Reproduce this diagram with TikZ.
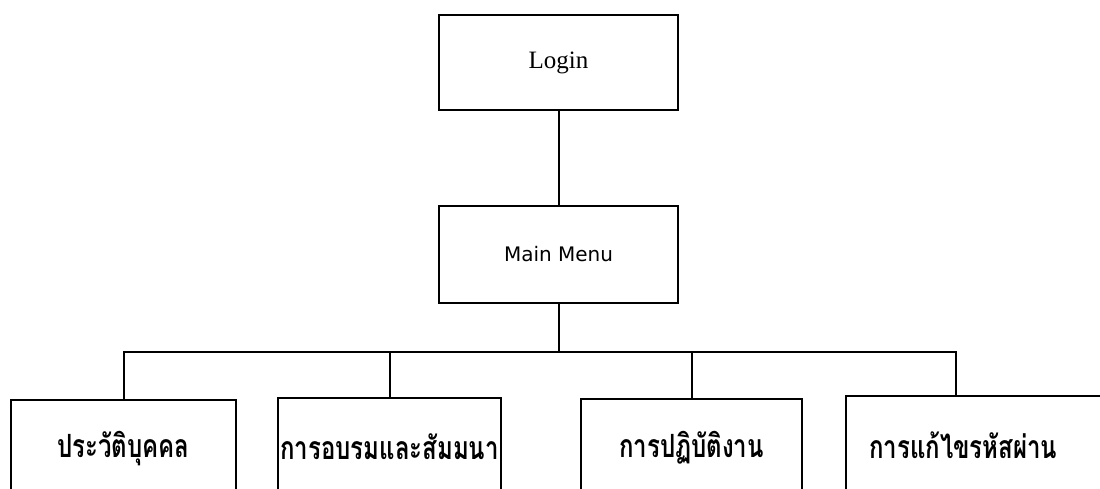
\documentclass[tikz,border=0pt]{standalone}
\usepackage{fontspec}
\setmainfont{Liberation Serif}
\newfontfamily\menufont{DejaVu Sans}
\newfontfamily\thaifont[Script=Thai]{Loma}
\newcommand{\thx}[1]{\scalebox{0.75}[1]{\thaifont\bfseries\fontsize{32}{34}\selectfont #1}}
\begin{document}
\begin{tikzpicture}[x=1pt,y=-1pt,
  box/.style={draw,line width=2pt,anchor=north west,inner sep=0pt},
  child/.style={anchor=north west,inner sep=0pt,minimum height=98pt},
  link/.style={line width=2pt}]
\useasboundingbox (0,0) rectangle (1100,489);
\clip (0,0) rectangle (1100,489);
\node[box,minimum width=239pt,minimum height=95pt,font=\fontsize{25}{28}\selectfont] (login) at (438,14) {\raisebox{-4pt}{Login}};
\node[box,minimum width=239pt,minimum height=97pt,font=\menufont\fontsize{20}{23}\selectfont] (main) at (438,205) {Main Menu};
\node[box,child,minimum width=225pt] (b1) at (10,399) {\thx{ประวัติบุคคล}};
\node[box,child,minimum width=223pt] (b2) at (277,397) {\thx{การอบรมและสัมมนา}};
\node[box,child,minimum width=221pt] (b3) at (580,398) {\thx{การปฏิบัติงาน}};
\node[child,minimum width=220pt] (b4) at (846,396) {\hspace*{14pt}\thx{การแก้ไขรหัสผ่าน}};
\draw[line width=2pt] (b4.south west) -- (b4.north west) -- ++(280,0) -- ++(0,110);
\coordinate (bus) at (main.south |- 0,352);
\draw[link] (login.south) -- (main.north);
\draw[link] (main.south) -- (bus);
\draw[link] (b1.north) |- (bus) -| (b4.north);
\draw[link] (b2.north) -- (b2.north |- bus);
\draw[link] (b3.north) -- (b3.north |- bus);
\end{tikzpicture}
\end{document}
